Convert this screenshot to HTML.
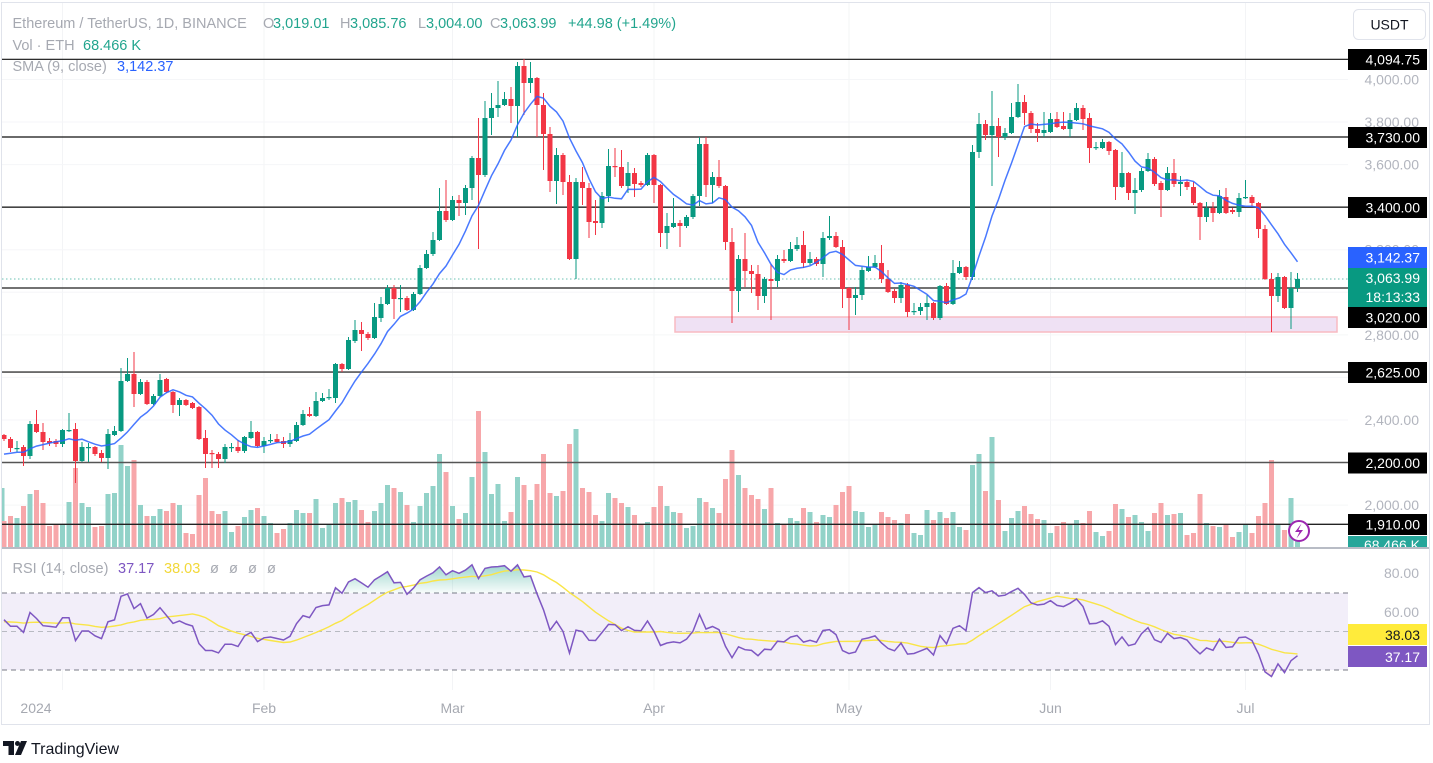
<!DOCTYPE html>
<html><head><meta charset="utf-8">
<style>
html,body{margin:0;padding:0;background:#fff;}
body{width:1433px;height:758px;overflow:hidden;}
svg text{font-family:"Liberation Sans",Arial,sans-serif;}
</style></head><body>
<svg id="c" width="1433" height="758" viewBox="0 0 1433 758" xmlns="http://www.w3.org/2000/svg"></svg>
<script>
const D=[
[435,439,434,441],[439,448,437,452],[449,448,441,452],[447,456,445,466],[456,424,421,459],
[424,432,410,433],[432,442,423,450],[441,443,438,446],[441,444,439,447],[444,430,429,447],
[431,430,413,432],[429,461,423,483],[461,447,442,462],[448,447,443,462],[447,454,446,456],
[453,458,450,462],[458,434,429,469],[435,431,426,436],[431,381,368,432],[381,374,358,382],
[374,394,352,407],[394,382,379,395],[382,404,380,405],[404,396,394,405],[396,380,374,397],
[379,392,378,393],[392,405,391,413],[405,400,398,416],[400,405,399,406],[403,408,402,409],
[407,439,406,440],[438,454,430,468],[453,454,450,468],[454,459,452,468],[459,447,444,463],
[448,447,443,452],[447,451,440,453],[451,437,436,453],[438,432,421,439],[432,446,431,447],
[446,441,437,453],[441,440,434,443],[439,442,434,443],[441,444,437,448],[444,440,433,447],
[441,425,422,442],[425,414,410,426],[414,416,407,417],[416,401,392,417],[401,398,393,402],
[398,397,389,400],[398,364,363,403],[364,369,363,372],[369,340,337,370],[341,330,320,343],
[330,334,322,351],[334,338,332,340],[338,317,303,339],[318,304,297,322],[304,288,285,305],
[288,299,285,319],[299,298,285,312],[298,310,296,311],[310,294,292,311],[294,268,265,295],
[268,254,250,269],[254,240,232,256],[240,211,188,241],[211,220,180,222],[220,200,196,221],
[200,203,195,216],[203,188,185,215],[188,158,156,200],[158,175,118,249],[175,118,101,177],
[118,108,93,135],[108,105,81,117],[105,99,92,106],[99,106,87,123],[106,66,62,137],
[66,83,59,115],[83,78,62,93],[78,105,77,137],[105,134,93,170],[134,181,127,192],
[181,155,148,204],[155,182,153,195],[182,259,175,260],[259,182,178,279],[182,188,167,205],
[188,222,183,238],[221,223,200,235],[223,196,192,228],[196,166,149,202],[166,167,148,177],
[167,186,150,188],[186,173,162,193],[173,184,168,197],[183,185,181,187],[185,155,153,186],
[155,185,154,203],[185,233,184,247],[233,226,213,249],[227,223,198,228],[223,226,220,247],
[226,217,215,228],[217,196,194,219],[196,144,137,206],[144,185,137,197],[185,177,172,203],
[177,186,160,188],[186,242,185,250],[242,291,228,323],[291,259,255,312],[259,271,233,287],
[271,274,265,293],[274,296,265,310],[296,279,277,303],[279,281,264,320],[281,259,255,287],
[259,261,250,263],[261,249,242,262],[249,245,237,251],[245,263,231,268],[263,259,252,265],
[259,264,257,266],[264,238,232,277],[238,236,216,240],[236,247,232,248],[247,289,240,308],
[288,298,287,330],[298,295,287,315],[295,270,267,300],[271,267,256,272],[267,263,255,268],
[263,279,245,283],[279,292,270,293],[291,298,289,303],[298,285,282,303],[285,312,283,317],
[312,311,303,315],[311,307,303,315],[307,303,295,320],[303,318,302,320],[318,286,285,320],
[286,304,283,305],[304,273,260,305],[273,267,261,274],[267,277,266,280],[277,152,145,280],
[152,124,113,158],[124,135,120,140],[135,126,91,186],[126,137,118,157],[137,133,128,140],
[133,117,103,134],[117,102,84,118],[102,113,95,125],[113,129,111,133],[129,133,123,142],
[133,130,112,137],[132,119,113,133],[119,127,112,128],[126,129,112,130],[129,120,113,137],
[120,108,103,121],[108,119,105,130],[118,148,113,163],[148,147,142,150],[148,142,139,149],
[142,151,141,155],[150,187,149,200],[187,173,152,188],[173,193,172,200],[193,190,178,214],
[190,171,168,192],[171,159,153,172],[159,184,157,186],[183,190,181,217],[190,173,167,191],
[173,184,159,187],[184,182,176,196],[182,187,180,190],[187,203,182,205],[203,217,202,240],
[217,208,202,222],[208,213,202,222],[213,196,190,214],[197,213,188,214],[210,212,208,214],
[212,198,193,217],[198,197,180,199],[197,203,195,207],[203,229,202,238],[229,279,225,280],
[279,296,273,332],[296,277,273,302],[277,308,276,309],[308,288,272,329],[288,279,273,292]
];
const VT=[521,516,518,506,494,490,503,526,524,525,502,468,503,507,527,526,494,493,445,466,
460,505,516,516,509,511,503,505,533,534,495,478,511,514,511,532,526,517,510,508,
516,523,533,529,523,510,513,513,499,528,525,503,498,502,500,510,522,511,503,485,
488,492,505,522,506,493,486,454,472,506,519,513,477,411,452,494,484,521,512,477,
485,500,484,454,493,496,491,444,429,488,492,515,521,493,498,503,507,515,525,522,
507,486,506,512,513,528,526,498,502,508,513,479,450,475,488,495,499,509,488,523,
525,518,521,508,512,522,515,517,505,492,486,511,512,527,525,512,517,520,523,514,
533,535,510,520,512,518,512,527,530,465,454,491,437,500,531,518,511,506,514,519,
520,533,526,522,524,520,523,511,532,536,531,504,509,517,515,522,531,513,503,515,
514,513,535,533,494,523,526,527,525,537,532,524,533,516,503,460,525,530,498,535];
const VC="0010100001"+"1011001111"+"0101100100"+"0000110110"+"1100111011"+"1101100111"+"0101111101"+"0110111101"+"0100010010"+"0011001001"+
"0011011101"+"0001000101"+"0110101100"+"0111100010"+"1110101101"+"1010111000"+"1100110011"+"0010111001"+"0100010100"+"1100001011";
const X=i=>4+6.5*i;
const P=y=>4000-(y-79.5)/0.2128;
const RY=v=>631.5-(v-50)*1.93;
const G='#089981',R='#f23645',GRAY='#a6a9b1';
let s='';
s+=`<defs>
<clipPath id="cpMain"><rect x="2" y="3" width="1346" height="545"/></clipPath>
<clipPath id="cpOB"><rect x="0" y="540" width="1348" height="53"/></clipPath>
<clipPath id="cpOS"><rect x="0" y="670" width="1348" height="40"/></clipPath>
<clipPath id="cpVol"><rect x="1340" y="530" width="93" height="18"/></clipPath>
<linearGradient id="gOB" gradientUnits="userSpaceOnUse" x1="0" y1="560" x2="0" y2="593">
<stop offset="0" stop-color="#089981" stop-opacity="0.45"/><stop offset="1" stop-color="#089981" stop-opacity="0.03"/></linearGradient>
</defs>`;
s+=`<rect x="0" y="0" width="1433" height="758" fill="#fff"/>`;
const months=[62.5,264,452.5,654,849,1050.5,1245.5];
months.forEach(x=>{s+=`<line x1="${x}" y1="3" x2="${x}" y2="690" stroke="#f3f4f6" stroke-width="1"/>`;});
for(let p=2000;p<=4000;p+=200){const y=79.5+(4000-p)*0.2128;s+=`<line x1="2" y1="${y}" x2="1348" y2="${y}" stroke="#f5f6f8" stroke-width="1"/>`;}
s+=`<g clip-path="url(#cpMain)">`;
s+=`<rect x="675" y="317" width="662" height="15" fill="#efe1f4" stroke="#f8bac2" stroke-width="1.5"/>`;
s+=`<rect x="-0.5" y="488" width="5" height="60" fill="#92d2c8"/>`;
for(let i=0;i<VT.length;i++){const x=X(i);s+=`<rect x="${x-2.5}" y="${VT[i]}" width="5" height="${548-VT[i]}" fill="${VC[i]==='1'?'#92d2c8':'#f7a7aa'}"/>`;}
[[59.3,1.2,'#111'],[137,1.2,'#111'],[207.2,1.6,'#444'],[288,1.6,'#444'],[372.1,1.6,'#555'],[462.5,1.6,'#555'],[524.3,1.3,'#222']].forEach(a=>{
s+=`<line x1="2" y1="${a[0]}" x2="1348" y2="${a[0]}" stroke="${a[2]}" stroke-width="${a[1]}"/>`;});
s+=`<line x1="2" y1="279" x2="1348" y2="279" stroke="#089981" stroke-opacity="0.6" stroke-width="1" stroke-dasharray="1.5,2.5"/>`;
for(let i=0;i<D.length;i++){const [o,c,h,l]=D[i];const x=X(i);const up=c<=o;const col=up?G:R;
const top=Math.min(o,c),bh=Math.max(1.2,Math.abs(o-c));
s+=`<line x1="${x}" y1="${h}" x2="${x}" y2="${l}" stroke="${col}" stroke-width="1"/>`;
s+=`<rect x="${x-2.5}" y="${top}" width="5" height="${bh}" fill="${col}"/>`;}
const cl=D.map(d=>d[1]);const pad=[456,456,456,456,456,456,456,456];const all=pad.concat(cl);
let pts=[];for(let i=0;i<cl.length;i++){let sm=0;for(let k=0;k<9;k++)sm+=all[i+8-k];pts.push(X(i).toFixed(1)+','+(sm/9).toFixed(1));}
s+=`<polyline points="${pts.join(' ')}" fill="none" stroke="#2962ff" stroke-width="1.5" stroke-opacity="0.85"/>`;
s+=`</g>`;
s+=`<circle cx="1299" cy="531" r="10" fill="#fff" stroke="#9c27b0" stroke-width="2"/>`;
s+=`<path d="M1301.5 523.5 L1295 532 L1299.5 532 L1296.5 538.5 L1303 530 L1298.5 530 Z" fill="#9c27b0"/>`;
const T=(x,y,t,c,sz,anc,w)=>`<text x="${x}" y="${y}" font-size="${sz||14.5}" fill="${c}"${anc?` text-anchor="${anc}"`:''}${w?` font-weight="${w}"`:''}>${t}</text>`;
s+=T(12.5,28,'Ethereum / TetherUS, 1D, BINANCE',GRAY);
s+=T(263,28,'O',GRAY)+T(273,28,'3,019.01','#22a58e');
s+=T(340,28,'H',GRAY)+T(350,28,'3,085.76','#22a58e');
s+=T(418,28,'L',GRAY)+T(426,28,'3,004.00','#22a58e');
s+=T(490,28,'C',GRAY)+T(500,28,'3,063.99','#22a58e');
s+=T(568,28,'+44.98 (+1.49%)','#22a58e');
s+=T(12.5,50,'Vol · ETH',GRAY)+T(83,50,'68.466 K','#22a58e');
s+=T(12.5,71,'SMA (9, close)',GRAY)+T(117,71,'3,142.37','#2962ff');
[[4000],[3800],[3600],[3200],[2800],[2400],[2000]].forEach(a=>{const y=79.5+(4000-a[0])*0.2128;
s+=T(1419,y+5,a[0].toLocaleString('en-US')+'.00','#b2b5be',14,'end');});
const box=(yc,t,fill,tc)=>{s+=`<rect x="1348" y="${yc-10.5}" width="79" height="21" fill="${fill}"/>`+T(1420,yc+5,t,tc||'#fff',14,'end');};
box(59.5,'4,094.75','#000');box(137.5,'3,730.00','#000');box(207.5,'3,400.00','#000');
box(257.5,'3,142.37','#2962ff');
s+=`<rect x="1348" y="268" width="79" height="39" fill="#089981"/>`+T(1420,283,'3,063.99','#fff',14,'end')+T(1420,302,'18:13:33','#fff',14,'end');
box(317.5,'3,020.00','#000');box(372.5,'2,625.00','#000');box(463,'2,200.00','#000');box(524.5,'1,910.00','#000');
s+=`<g clip-path="url(#cpVol)"><rect x="1348" y="536" width="79" height="14" fill="#26a69a"/>`+T(1420,550,'68.466 K','#fff',14,'end')+`</g>`;
s+=`<rect x="1353.5" y="9.5" width="72" height="30" rx="5" fill="#fff" stroke="#e0e3eb"/>`+T(1389.5,29.5,'USDT','#131722',14,'middle');
s+=`<line x1="2" y1="548" x2="1429" y2="548" stroke="#b8bcc5" stroke-width="2"/>`;
s+=`<rect x="2" y="593" width="1346" height="77" fill="#f2eef9"/>`;
s+=`<line x1="2" y1="593" x2="1348" y2="593" stroke="#787b86" stroke-width="1" stroke-dasharray="5,4"/>`;
s+=`<line x1="2" y1="631.5" x2="1348" y2="631.5" stroke="#b8bac2" stroke-width="1" stroke-dasharray="5,4"/>`;
s+=`<line x1="2" y1="670" x2="1348" y2="670" stroke="#787b86" stroke-width="1" stroke-dasharray="5,4"/>`;
let ag=30,al=22,prev=P(D[0][0]);const rsi=[];
for(let i=0;i<D.length;i++){const c=P(D[i][1]);const ch=c-prev;const g=Math.max(ch,0),l=Math.max(-ch,0);ag=(ag*13+g)/14;al=(al*13+l)/14;rsi.push(100-100/(1+ag/al));prev=c;}
const ma=[];for(let i=0;i<rsi.length;i++){let sm=0;for(let k=0;k<14;k++){const j=i-k;sm+=j>=0?rsi[j]:55;}ma.push(sm/14);}
const rp=rsi.map((v,i)=>X(i).toFixed(1)+','+RY(v).toFixed(1));
const mp=ma.map((v,i)=>X(i).toFixed(1)+','+RY(v).toFixed(1));
s+=`<path d="M${X(0)},593 L${rp.join(' L')} L${X(rsi.length-1)},593 Z" fill="url(#gOB)" clip-path="url(#cpOB)"/>`;
s+=`<path d="M${X(0)},670 L${rp.join(' L')} L${X(rsi.length-1)},670 Z" fill="#f23645" fill-opacity="0.12" clip-path="url(#cpOS)"/>`;
s+=`<polyline points="${mp.join(' ')}" fill="none" stroke="#f9e547" stroke-width="1.4"/>`;
s+=`<polyline points="${rp.join(' ')}" fill="none" stroke="#7e57c2" stroke-width="1.5"/>`;
s+=T(12.5,573,'RSI (14, close)',GRAY)+T(118,573,'37.17','#7e57c2')+T(164,573,'38.03','#f2d83a');
s+=T(210,573,'ø',GRAY)+T(229,573,'ø',GRAY)+T(248,573,'ø',GRAY)+T(267,573,'ø',GRAY);
s+=T(1419,578,'80.00','#b2b5be',14,'end')+T(1419,617,'60.00','#b2b5be',14,'end');
s+=`<rect x="1348" y="624" width="79" height="21" fill="#ffeb3b"/>`+T(1420,640,'38.03','#131722',14,'end');
s+=`<rect x="1348" y="646" width="79" height="21" fill="#7e57c2"/>`+T(1420,662,'37.17','#fff',14,'end');
[['2024',36],['Feb',264],['Mar',452.5],['Apr',654],['May',849],['Jun',1050.5],['Jul',1245.5]].forEach(a=>{
s+=T(a[1],713,a[0],'#a6a9b1',14,'middle');});
s+=`<rect x="1.5" y="2.5" width="1428" height="722" fill="none" stroke="#e0e3eb" stroke-width="1"/>`;
s+=`<path d="M3 741 h11 v14 h-5.5 v-9 h-5.5 z" fill="#131722"/><circle cx="17.5" cy="743.5" r="2.5" fill="#131722"/><path d="M21 741 h6 l-6 14 h-6 z" fill="#131722"/>`;
s+=T(31,754,'TradingView','#131722',16);
document.getElementById('c').innerHTML=s;
</script>
</body></html>
